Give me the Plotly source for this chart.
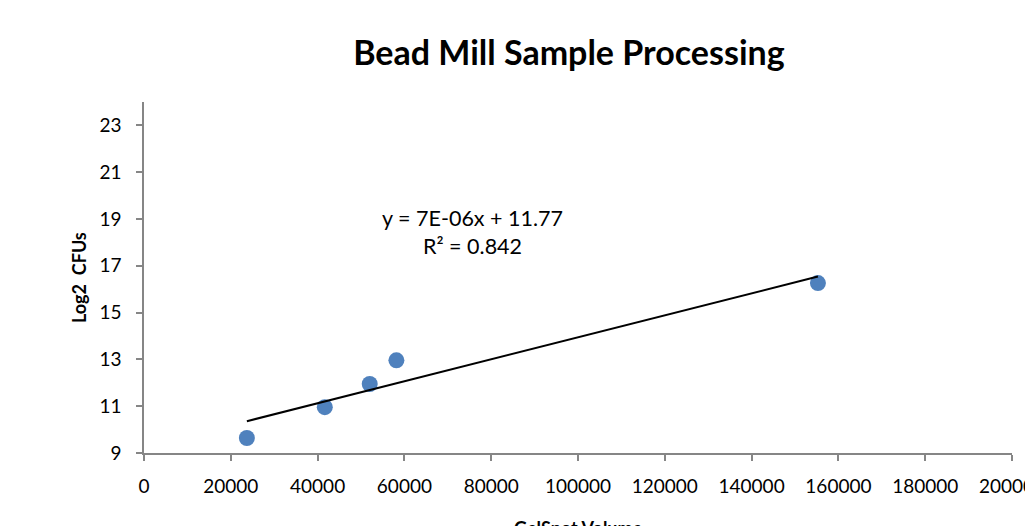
import numpy as np
import plotly.graph_objects as go

gelspot_volume = [23700, 41660, 52010, 58160, 155280]
log2_cfus = [9.64, 10.96, 11.95, 12.96, 16.26]
x_ticks = [0, 20000, 40000, 60000, 80000, 100000, 120000, 140000, 160000, 180000, 200000]
y_ticks = [9, 11, 13, 15, 17, 19, 21, 23]
equation_text = "y = 7E-06x + 11.77"
r2_text = "R² = 0.842"

slope, intercept = np.polyfit(gelspot_volume, log2_cfus, 1)
trend_x = [min(gelspot_volume), max(gelspot_volume)]
trend_y = [slope * v + intercept for v in trend_x]

FONT = "Lato, Carlito, Calibri, sans-serif"
AX = "#868686"

fig = go.Figure()
fig.add_trace(go.Scatter(x=gelspot_volume, y=log2_cfus, mode="markers",
                         marker=dict(size=16, color="#4F81BD"), showlegend=False,
                         cliponaxis=False))
fig.add_trace(go.Scatter(x=trend_x, y=trend_y, mode="lines",
                         line=dict(color="black", width=2), showlegend=False))

fig.add_annotation(x=0.379, y=0.63, xref="paper", yref="paper",
                   xanchor="center", yanchor="middle",
                   text=equation_text + "<br>" + r2_text, showarrow=False,
                   font=dict(family=FONT, size=21.5, color="black"), align="center")
fig.add_annotation(x=0.5, y=-0.176, xref="paper", yref="paper",
                   xanchor="center", yanchor="top", showarrow=False,
                   text="<b>GelSpot Volume</b>",
                   font=dict(family=FONT, size=18, color="black"))
fig.add_annotation(x=-0.075, y=0.501, xref="paper", yref="paper",
                   xanchor="center", yanchor="middle", showarrow=False, textangle=-90,
                   text="<b>Log2  CFUs</b>",
                   font=dict(family=FONT, size=18, color="black"))

fig.update_layout(
    width=1033, height=526,
    margin=dict(l=136, r=29, t=94, b=81, autoexpand=False),
    paper_bgcolor="white", plot_bgcolor="white",
    font=dict(family=FONT, color="black"),
    title=dict(text="<b>Bead Mill Sample Processing</b>", x=0.543, xanchor="center",
               y=0.915, yanchor="middle", font=dict(family=FONT, size=34, color="black")),
)
fig.update_xaxes(range=[0, 200000], tickvals=x_ticks, tickformat="d", automargin=False,
                 ticklabeloverflow="allow",
                 showgrid=False, zeroline=False, showline=True, linecolor=AX, linewidth=1.5,
                 ticks="outside", ticklen=6, tickcolor=AX, tickwidth=1.5,
                 ticklabelstandoff=9, tickfont=dict(family=FONT, size=19, color="black"))
fig.update_yaxes(range=[9, 24], tickvals=y_ticks, automargin=False,
                 showgrid=False, zeroline=False, showline=True, linecolor=AX, linewidth=1.5,
                 ticks="outside", ticklen=6, tickcolor=AX, tickwidth=1.5,
                 ticklabelstandoff=11, tickfont=dict(family=FONT, size=19, color="black"))

fig.write_html("out.html")
